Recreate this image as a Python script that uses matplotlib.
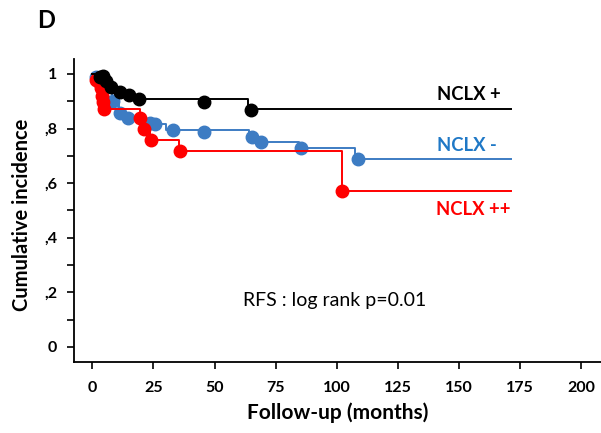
import numpy as np
import matplotlib.pyplot as plt

plt.rcParams['font.family'] = ['Lato', 'DejaVu Sans']

# step curves: time of each step (months) and level after it
black_t = [0, 4, 7, 11, 15, 18, 63.5, 171]
black_s = [1.0, 0.975, 0.952, 0.934, 0.921, 0.908, 0.870, 0.870]
blue_t = [0, 2, 5, 8, 11, 14, 18, 25, 30, 64, 68, 84.5, 107.5, 171]
blue_s = [1.0, 0.985, 0.93, 0.90, 0.856, 0.84, 0.83, 0.815, 0.795, 0.768, 0.752, 0.727, 0.687, 0.687]
red_t = [0, 2, 3, 4, 5, 19.5, 21, 23.5, 35.5, 102.3, 171]
red_s = [1.0, 0.978, 0.952, 0.92, 0.873, 0.840, 0.800, 0.757, 0.717, 0.573, 0.573]

# censoring dots
black_mx = [3, 4.5, 5.5, 7.5, 11.5, 15, 19, 45.5, 65]
black_my = [0.99, 0.992, 0.975, 0.952, 0.934, 0.922, 0.908, 0.896, 0.869]
blue_mx = [1.5, 8.5, 11.5, 14.5, 23.5, 25.8, 33, 45.5, 65.5, 69, 85.5, 108.5]
blue_my = [0.99, 0.90, 0.856, 0.84, 0.822, 0.815, 0.795, 0.786, 0.768, 0.751, 0.727, 0.687]
red_mx = [1.5, 2.8, 3.5, 4, 4.3, 5, 19.5, 21, 24, 36, 102.3]
red_my = [0.978, 0.97, 0.95, 0.92, 0.897, 0.873, 0.840, 0.800, 0.757, 0.716, 0.573]

c_black = 'black'
c_blue = '#3d7cc3'
c_red = '#ff0000'

fig = plt.figure(figsize=(6.01, 4.33), dpi=100)
ax = fig.add_axes([0.123, 0.164, 0.877, 0.700])

for t, s, mx, my, c in [(blue_t, blue_s, blue_mx, blue_my, c_blue),
                        (red_t, red_s, red_mx, red_my, c_red),
                        (black_t, black_s, black_mx, black_my, c_black)]:
    ax.step(t, s, where='post', color=c, lw=1.4)
    ax.plot(mx, my, 'o', color=c, ms=9, mec=c)

ax.text(167, 0.923, 'NCLX +', color='black', fontsize=13.3, fontweight='bold', ha='right', va='center')
ax.text(165.5, 0.736, 'NCLX -', color='#1f78c6', fontsize=13.3, fontweight='bold', ha='right', va='center')
ax.text(171, 0.502, 'NCLX ++', color=c_red, fontsize=13.3, fontweight='bold', ha='right', va='center')
ax.text(99, 0.17, 'RFS : log rank p=0.01', color='black', fontsize=14, ha='center', va='center')

ax.set_xlim(-7.5, 208)
ax.set_ylim(-0.055, 1.055)
ax.set_xticks(np.arange(0, 201, 25))
ax.set_yticks([0, 0.2, 0.4, 0.6, 0.8, 1.0])
ax.set_yticklabels(['0', ',2', ',4', ',6', ',8', '1'])
ax.set_yticks(np.arange(0.1, 1.0, 0.2), minor=True)
ax.tick_params(axis='both', which='both', direction='out', width=1.2, length=5, labelsize=11.5)
ax.tick_params(axis='x', pad=9)
ax.tick_params(axis='y', pad=7)
for lab in ax.get_xticklabels() + ax.get_yticklabels():
    lab.set_fontweight('bold')

for sp in ['top', 'right']:
    ax.spines[sp].set_visible(False)
for sp in ['left', 'bottom']:
    ax.spines[sp].set_linewidth(1.3)

ax.set_xlabel('Follow-up (months)', fontsize=15, fontweight='bold', labelpad=5)
ax.set_ylabel('Cumulative incidence', fontsize=14.5, fontweight='bold')
ax.yaxis.set_label_coords(-0.080, 0.485)

fig.text(0.062, 0.952, 'D', fontsize=17, fontweight='bold', ha='left', va='center')

fig.savefig('out.png', dpi=100)
